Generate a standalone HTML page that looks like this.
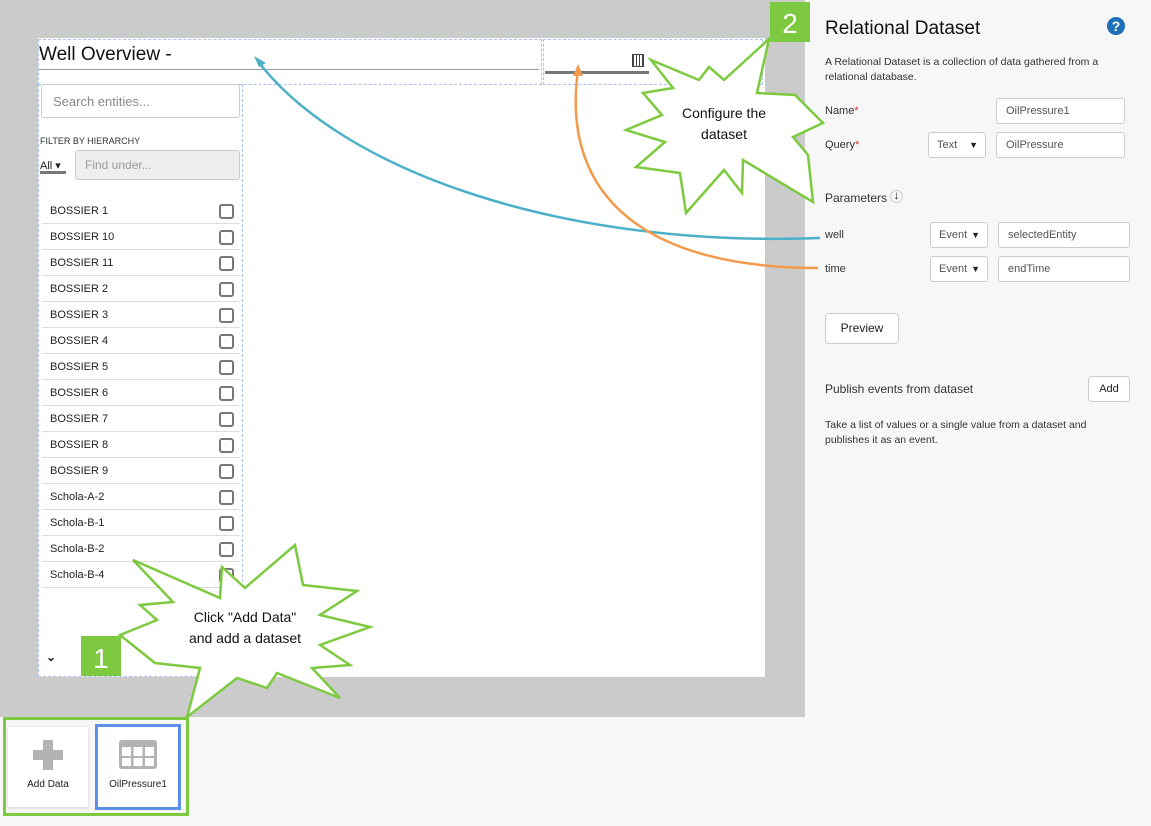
<!DOCTYPE html>
<html><head><meta charset="utf-8"><style>
*{box-sizing:border-box;margin:0;padding:0}
body{width:1151px;height:826px;position:relative;overflow:hidden;background:#f7f7f7;font-family:"Liberation Sans",sans-serif;color:#222}
.a{position:absolute}
.inp{position:absolute;background:#fff;border:1px solid #ccc;border-radius:3px;font-size:11px;color:#555;padding-left:9px;display:flex;align-items:center}
.row{position:absolute;left:42px;width:198px;height:26px;border-bottom:1px solid #ddd;font-size:11px;padding-left:8px;line-height:26px}
.cb{position:absolute;right:6px;top:6px;width:15px;height:15px;border:2px solid #777;border-radius:3px}
.lbl{position:absolute;font-size:11px;color:#333}
.sel{position:absolute;background:#fff;border:1px solid #ccc;border-radius:3px;font-size:11px;color:#555;padding-left:8px;display:flex;align-items:center}
.sel:after{content:"▼";position:absolute;right:7px;font-size:9px;color:#222}
</style></head><body>
<div class="a" style="left:0;top:0;width:805px;height:717px;background:#cbcbcb"></div>
<div class="a" style="left:38px;top:38px;width:727px;height:639px;background:#fff"></div>
<div class="a" style="left:38px;top:39px;width:504px;height:46px;border:1px dashed #a9c3ef"></div>
<div class="a" style="left:543px;top:39px;width:220px;height:46px;border:1px dashed #a9c3ef"></div>
<div class="a" style="left:38px;top:84px;width:205px;height:593px;border:1px dashed #a9c3ef"></div>
<div class="a" style="left:39px;top:44px;font-size:19px;color:#111">Well Overview -</div>
<div class="a" style="left:39px;top:69px;width:500px;height:1px;background:#999"></div>
<div class="a" style="left:545px;top:71px;width:104px;height:3px;background:#777"></div>
<div class="a" style="left:632px;top:54px;width:12px;height:13px;border:1px solid #444;background:repeating-linear-gradient(90deg,#444 0 1px,#fff 1px 3px)"></div>
<div class="inp" style="left:41px;top:84px;width:199px;height:34px;font-size:13px;color:#888;padding-left:11px">Search entities...</div>
<div class="a" style="left:40px;top:136px;font-size:9px;color:#333">FILTER BY HIERARCHY</div>
<div class="a" style="left:40px;top:159px;font-size:11px">All ▾</div>
<div class="a" style="left:40px;top:171px;width:26px;height:3px;background:#777"></div>
<div class="inp" style="left:75px;top:150px;width:165px;height:30px;background:#eee;font-size:12px;color:#999">Find under...</div>
<div class="row" style="top:198px">BOSSIER 1<div class="cb"></div></div>
<div class="row" style="top:224px">BOSSIER 10<div class="cb"></div></div>
<div class="row" style="top:250px">BOSSIER 11<div class="cb"></div></div>
<div class="row" style="top:276px">BOSSIER 2<div class="cb"></div></div>
<div class="row" style="top:302px">BOSSIER 3<div class="cb"></div></div>
<div class="row" style="top:328px">BOSSIER 4<div class="cb"></div></div>
<div class="row" style="top:354px">BOSSIER 5<div class="cb"></div></div>
<div class="row" style="top:380px">BOSSIER 6<div class="cb"></div></div>
<div class="row" style="top:406px">BOSSIER 7<div class="cb"></div></div>
<div class="row" style="top:432px">BOSSIER 8<div class="cb"></div></div>
<div class="row" style="top:458px">BOSSIER 9<div class="cb"></div></div>
<div class="row" style="top:484px">Schola-A-2<div class="cb"></div></div>
<div class="row" style="top:510px">Schola-B-1<div class="cb"></div></div>
<div class="row" style="top:536px">Schola-B-2<div class="cb"></div></div>
<div class="row" style="top:562px">Schola-B-4<div class="cb"></div></div>
<div class="a" style="left:46px;top:650px;font-size:12px;font-weight:bold">⌄</div>

<!-- bottom tray -->
<div class="a" style="left:3px;top:717px;width:186px;height:99px;border:3px solid #7dc93f"></div>
<div class="a" style="left:8px;top:727px;width:80px;height:80px;background:#fff;box-shadow:0 1px 3px #ccc"></div>
<div class="a" style="left:43px;top:740px;width:10px;height:30px;background:#b3b3b3"></div>
<div class="a" style="left:33px;top:750px;width:30px;height:10px;background:#b3b3b3"></div>
<div class="a" style="left:8px;top:779px;width:80px;text-align:center;font-size:10px">Add Data</div>
<div class="a" style="left:95px;top:724px;width:86px;height:86px;border:3px solid #5b8fe8;background:#fff"></div>
<svg class="a" style="left:119px;top:740px" width="38" height="29">
<rect x="0" y="0" width="38" height="29" rx="3" fill="#b3b3b3"/>
<g fill="#fff">
<rect x="3" y="7" width="9" height="9"/><rect x="14.5" y="7" width="9" height="9"/><rect x="26" y="7" width="9" height="9"/>
<rect x="3" y="18" width="9" height="8"/><rect x="14.5" y="18" width="9" height="8"/><rect x="26" y="18" width="9" height="8"/>
</g></svg>
<div class="a" style="left:95px;top:779px;width:86px;text-align:center;font-size:10px">OilPressure1</div>

<!-- right panel -->
<div class="a" style="left:825px;top:18px;font-size:19px;color:#111">Relational Dataset</div>
<div class="a" style="left:1107px;top:17px;width:18px;height:18px;border-radius:50%;background:#1d6fb8;color:#fff;font-size:14px;font-weight:bold;text-align:center;line-height:18px">?</div>
<div class="lbl" style="left:825px;top:55px;width:300px;line-height:15px;font-size:10.5px">A Relational Dataset is a collection of data gathered from a relational database.</div>
<div class="lbl" style="left:825px;top:105px">Name<span style="color:#d33">*</span></div>
<div class="inp" style="left:996px;top:98px;width:129px;height:26px">OilPressure1</div>
<div class="lbl" style="left:825px;top:139px">Query<span style="color:#d33">*</span></div>
<div class="sel" style="left:928px;top:132px;width:58px;height:26px">Text</div>
<div class="inp" style="left:996px;top:132px;width:129px;height:26px">OilPressure</div>
<div class="a" style="left:825px;top:191px;font-size:12px;color:#333">Parameters</div>
<div class="a" style="left:890px;top:190px;width:13px;height:13px;border:1px solid #ccc;border-radius:50%;font-size:12px;line-height:9px;text-align:center;font-weight:bold">↓</div>
<div class="lbl" style="left:825px;top:229px">well</div>
<div class="sel" style="left:930px;top:222px;width:58px;height:26px">Event</div>
<div class="inp" style="left:998px;top:222px;width:132px;height:26px">selectedEntity</div>
<div class="lbl" style="left:825px;top:263px">time</div>
<div class="sel" style="left:930px;top:256px;width:58px;height:26px">Event</div>
<div class="inp" style="left:998px;top:256px;width:132px;height:26px">endTime</div>
<div class="a" style="left:825px;top:313px;width:74px;height:31px;border:1px solid #ccc;border-radius:4px;background:#fff;font-size:12px;text-align:center;line-height:29px">Preview</div>
<div class="a" style="left:825px;top:382px;font-size:12px;color:#333">Publish events from dataset</div>
<div class="a" style="left:1088px;top:376px;width:42px;height:26px;border:1px solid #ccc;border-radius:4px;background:#fff;font-size:11px;text-align:center;line-height:24px">Add</div>
<div class="lbl" style="left:825px;top:418px;width:300px;line-height:15px;font-size:10.5px">Take a list of values or a single value from a dataset and publishes it as an event.</div>

<svg class="a" style="left:0;top:0" width="1151" height="826">
<path d="M820,238 C560,248 340,170 257,60" fill="none" stroke="#4bb0c8" stroke-width="2.5"/>
<polygon points="254,56 266,63 259,67" fill="#4bb0c8"/>
<path d="M818,268 C650,268 560,200 578,70" fill="none" stroke="#f39a4a" stroke-width="2.5"/>
<polygon points="578,64 583,76 573,76" fill="#f39a4a"/>
<polygon points="769,39 757,93 795,95 823,123 793,137 808,155 813,202 743,160 742,193 724,170 686,213 680,173 636,167 665,142 626,130 662,115 643,93 673,88 651,60 699,80 709,67 724,80" fill="#fff" stroke="#7dc93f" stroke-width="2.5" stroke-linejoin="miter"/>
<text x="724" y="118" font-family="Liberation Sans,sans-serif" font-size="14" text-anchor="middle" fill="#111">Configure the</text>
<text x="724" y="139" font-family="Liberation Sans,sans-serif" font-size="14" text-anchor="middle" fill="#111">dataset</text>
<polygon points="133,560 173,602 140,605 157,620 120,635 155,663 200,668 187,717 237,678 267,688 277,673 340,698 312,668 350,665 320,645 370,627 320,615 357,591 303,585 295,545 245,588 222,567 220,598" fill="#fff" stroke="#7dc93f" stroke-width="2.5"/>
<text x="245" y="622" font-family="Liberation Sans,sans-serif" font-size="14" text-anchor="middle" fill="#111">Click "Add Data"</text>
<text x="245" y="643" font-family="Liberation Sans,sans-serif" font-size="14" text-anchor="middle" fill="#111">and add a dataset</text>
<rect x="81" y="636" width="40" height="40" fill="#7dc93f"/>
<text x="101" y="668" font-family="Liberation Sans,sans-serif" font-size="28" text-anchor="middle" fill="#fff">1</text>
<rect x="770" y="2" width="40" height="40" fill="#7dc93f"/>
<text x="790" y="33" font-family="Liberation Sans,sans-serif" font-size="28" text-anchor="middle" fill="#fff">2</text>
</svg>
</body></html>
